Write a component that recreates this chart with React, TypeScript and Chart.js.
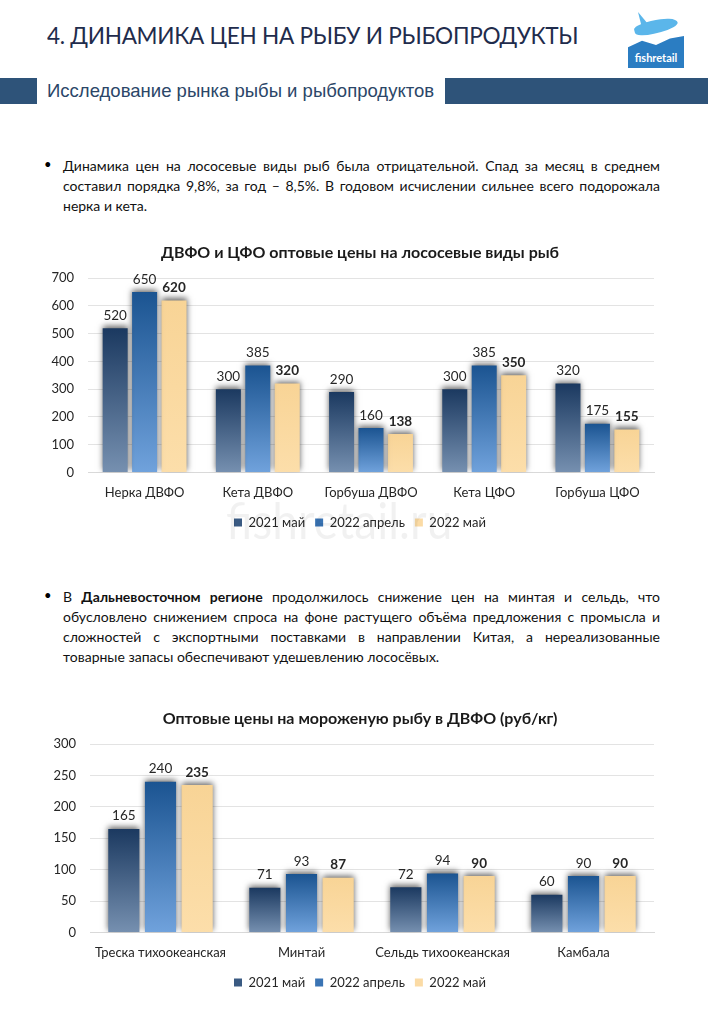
import React, { useEffect, useRef } from "react";
import { Chart, registerables } from "chart.js";

Chart.register(...registerables);

const SERIES_NAMES = ["2021 май", "2022 апрель", "2022 май"];

const CATS1 = ["Нерка ДВФО", "Кета ДВФО", "Горбуша ДВФО", "Кета ЦФО", "Горбуша ЦФО"];
const S1_2021MAY = [520, 300, 290, 300, 320];
const S1_2022APR = [650, 385, 160, 385, 175];
const S1_2022MAY = [620, 320, 138, 350, 155];
const TITLE1 = "ДВФО и ЦФО оптовые цены на лососевые виды рыб";

const CATS2 = ["Треска тихоокеанская", "Минтай", "Сельдь тихоокеанская", "Камбала"];
const S2_2021MAY = [165, 71, 72, 60];
const S2_2022APR = [240, 93, 94, 90];
const S2_2022MAY = [235, 87, 90, 90];
const TITLE2 = "Оптовые цены на мороженую рыбу в ДВФО (руб/кг)";

const GRADS: [string, string][] = [
  ["#1b3960", "#7690b0"],
  ["#1b5491", "#70a2dc"],
  ["#f8d496", "#fcdeaa"],
];
const LEGEND_COLORS = ["#3a5a82", "#3a74b4", "#fbdba5"];

const FONT = "Lato, 'Open Sans', sans-serif";

function gradFill(idx: number) {
  return (c: any) => {
    const chart = c.chart;
    const area = chart.chartArea;
    if (!area || c.type !== "data") return GRADS[idx][0];
    const y = chart.scales.y;
    const yt = y.getPixelForValue(c.raw);
    const yb = y.getPixelForValue(0);
    const g = chart.ctx.createLinearGradient(0, yt, 0, yb);
    g.addColorStop(0, GRADS[idx][0]);
    g.addColorStop(1, GRADS[idx][1]);
    return g;
  };
}

const shadowPlugin = {
  id: "barShadow",
  beforeDatasetDraw(chart: any) {
    const ctx = chart.ctx;
    ctx.save();
    ctx.shadowColor = "rgba(0,0,0,0.6)";
    ctx.shadowBlur = 6;
    ctx.shadowOffsetX = 0;
    ctx.shadowOffsetY = -2;
  },
  afterDatasetDraw(chart: any) {
    chart.ctx.restore();
  },
};

const labelPlugin = {
  id: "valueLabels",
  afterDatasetsDraw(chart: any) {
    const ctx = chart.ctx;
    chart.data.datasets.forEach((ds: any, di: number) => {
      const meta = chart.getDatasetMeta(di);
      meta.data.forEach((el: any, i: number) => {
        ctx.save();
        ctx.font = `${di === 2 ? "bold " : ""}13.5px ${FONT}`;
        ctx.fillStyle = "#262626";
        ctx.textAlign = "center";
        ctx.textBaseline = "bottom";
        ctx.fillText(String(ds.data[i]), el.x, el.y - 6);
        ctx.restore();
      });
    });
  },
};

// center the title and legend on the whole canvas, not only on the padded box
const centerPlugin = {
  id: "centerBlocks",
  afterLayout(chart: any, _args: any, opts: any) {
    const dx = opts.shift || 0;
    if (chart.legend) {
      chart.legend.left += dx;
      chart.legend.right += dx;
    }
    if (chart.titleBlock) {
      chart.titleBlock.left += dx;
      chart.titleBlock.right += dx;
    }
  },
};

type BarProps = {
  cats: string[];
  series: number[][];
  title: string;
  max: number;
  step: number;
  yWidth: number;
  padRight: number;
  titleBottom: number;
  tickPad: number;
  top: number;
  height: number;
};

function BarChart(p: BarProps) {
  const ref = useRef<HTMLCanvasElement>(null);
  useEffect(() => {
    if (!ref.current) return;
    const chart = new Chart(ref.current, {
      type: "bar",
      data: {
        labels: p.cats,
        datasets: p.series.map((d, i) => ({
          label: SERIES_NAMES[i],
          data: d,
          backgroundColor: gradFill(i),
          borderWidth: 0,
          categoryPercentage: 0.78,
          barPercentage: 0.85,
        })),
      },
      options: {
        animation: false,
        responsive: false,
        layout: { padding: { left: 0, right: p.padRight, top: 4, bottom: 0 } },
        plugins: {
          centerBlocks: { shift: p.padRight / 2 },
          title: {
            display: true,
            text: p.title,
            color: "#1a1a1a",
            font: { family: FONT, size: 16, weight: "bold" },
            padding: { top: 3, bottom: p.titleBottom },
          },
          legend: {
            position: "bottom",
            labels: {
              color: "#262626",
              font: { family: FONT, size: 13 },
              boxWidth: 8,
              boxHeight: 8,
              padding: 10,
              generateLabels: (chart: any) =>
                chart.data.datasets.map((ds: any, i: number) => ({
                  text: ds.label,
                  fillStyle: LEGEND_COLORS[i],
                  strokeStyle: LEGEND_COLORS[i],
                  lineWidth: 0,
                  datasetIndex: i,
                  hidden: false,
                  fontColor: "#262626",
                })),
            },
          },
          tooltip: { enabled: false },
        } as any,
        scales: {
          x: {
            grid: { display: false },
            border: { display: true, color: "#d9d9d9" },
            ticks: { color: "#262626", font: { family: FONT, size: 13 }, padding: p.tickPad },
          },
          y: {
            min: 0,
            max: p.max,
            afterFit: (s: any) => {
              s.width = p.yWidth;
            },
            grid: { color: "#e3e3e3", drawTicks: false },
            border: { display: false },
            ticks: {
              stepSize: p.step,
              color: "#262626",
              font: { family: FONT, size: 13 },
              padding: 14,
            },
          },
        },
      },
      plugins: [shadowPlugin, labelPlugin, centerPlugin],
    });
    return () => chart.destroy();
  }, []);
  return (
    <canvas
      ref={ref}
      width={640}
      height={p.height}
      style={{ position: "absolute", left: 40, top: p.top, width: 640, height: p.height }}
    />
  );
}

const lineStyle: React.CSSProperties = {
  textAlign: "justify",
  textAlignLast: "justify",
  whiteSpace: "nowrap",
  height: 20,
};

export default function App() {
  return (
    <div
      style={{
        position: "absolute",
        left: 0,
        top: 0,
        width: 708,
        height: 1024,
        background: "#fff",
        overflow: "hidden",
        fontFamily: FONT,
      }}
    >
      <div
        style={{
          position: "absolute",
          left: 47,
          top: 20,
          fontSize: 24,
          color: "#1f2c4c",
          whiteSpace: "nowrap",
          letterSpacing: -0.3,
          transform: "scaleX(0.94)",
          transformOrigin: "left top",
        }}
      >
        4. ДИНАМИКА ЦЕН НА РЫБУ И РЫБОПРОДУКТЫ
      </div>
      {/* logo */}
      <div style={{ position: "absolute", left: 628, top: 10, width: 56, height: 58 }}>
        <div
          style={{
            position: "absolute",
            left: 6,
            top: 10,
            width: 44,
            height: 13,
            background: "#5bb6ea",
            borderRadius: "40% 70% 50% 50%",
            transform: "rotate(-14deg)",
          }}
        />
        <div
          style={{
            position: "absolute",
            left: 10,
            top: 2,
            width: 10,
            height: 12,
            background: "#5bb6ea",
            clipPath: "polygon(0 0, 100% 100%, 30% 100%)",
          }}
        />
        <div
          style={{
            position: "absolute",
            left: 0,
            top: 26,
            width: 56,
            height: 32,
            background: "#2b7dc2",
            clipPath: "polygon(0 35%, 25% 15%, 50% 28%, 75% 8%, 100% 0, 100% 100%, 0 100%)",
          }}
        />
        <div
          style={{
            position: "absolute",
            left: 0,
            top: 41,
            width: 56,
            textAlign: "center",
            color: "#fff",
            fontWeight: "bold",
            fontSize: 11,
          }}
        >
          fishretail
        </div>
      </div>
      {/* subtitle bar */}
      <div style={{ position: "absolute", left: 0, top: 78, width: 37, height: 26, background: "#2e5379" }} />
      <div style={{ position: "absolute", left: 445, top: 78, width: 263, height: 26, background: "#2e5379" }} />
      <div
        style={{
          position: "absolute",
          left: 47,
          top: 80,
          fontSize: 19,
          color: "#2b4668",
          fontFamily: "'Liberation Sans', sans-serif",
          whiteSpace: "nowrap",
          transform: "scaleX(0.975)",
          transformOrigin: "left top",
        }}
      >
        Исследование рынка рыбы и рыбопродуктов
      </div>

      {/* bullet 1 */}
      <div style={{ position: "absolute", left: 44, top: 156, fontSize: 13 }}>•</div>
      <div style={{ position: "absolute", left: 63, top: 156, width: 597, fontSize: 14, color: "#111", lineHeight: "20px" }}>
        <div style={lineStyle}>Динамика цен на лососевые виды рыб была отрицательной. Спад за месяц в среднем</div>
        <div style={lineStyle}>составил порядка 9,8%, за год – 8,5%. В годовом исчислении сильнее всего подорожала</div>
        <div style={{ height: 20 }}>нерка и кета.</div>
      </div>

      <BarChart
        cats={CATS1}
        series={[S1_2021MAY, S1_2022APR, S1_2022MAY]}
        title={TITLE1}
        max={700}
        step={100}
        yWidth={48}
        padRight={26}
        titleBottom={16}
        tickPad={5}
        top={236}
        height={303}
      />
      <div
        style={{
          position: "absolute",
          left: 226,
          top: 490,
          fontSize: 50,
          color: "rgba(0,0,0,0.055)",
          whiteSpace: "nowrap",
          pointerEvents: "none",
          transform: "scaleX(0.92)",
          transformOrigin: "left top",
        }}
      >
        fishretail.ru
      </div>

      {/* bullet 2 */}
      <div style={{ position: "absolute", left: 44, top: 587, fontSize: 13 }}>•</div>
      <div style={{ position: "absolute", left: 63, top: 587, width: 597, fontSize: 14, color: "#111", lineHeight: "20px" }}>
        <div style={lineStyle}>
          В <b>Дальневосточном регионе</b> продолжилось снижение цен на минтая и сельдь, что
        </div>
        <div style={lineStyle}>обусловлено снижением спроса на фоне растущего объёма предложения с промысла и</div>
        <div style={lineStyle}>сложностей с экспортными поставками в направлении Китая, а нереализованные</div>
        <div style={{ height: 20 }}>товарные запасы обеспечивают удешевлению лососёвых.</div>
      </div>

      <BarChart
        cats={CATS2}
        series={[S2_2021MAY, S2_2022APR, S2_2022MAY]}
        title={TITLE2}
        max={300}
        step={50}
        yWidth={50}
        padRight={26}
        titleBottom={16}
        tickPad={5}
        top={702}
        height={297}
      />
    </div>
  );
}
